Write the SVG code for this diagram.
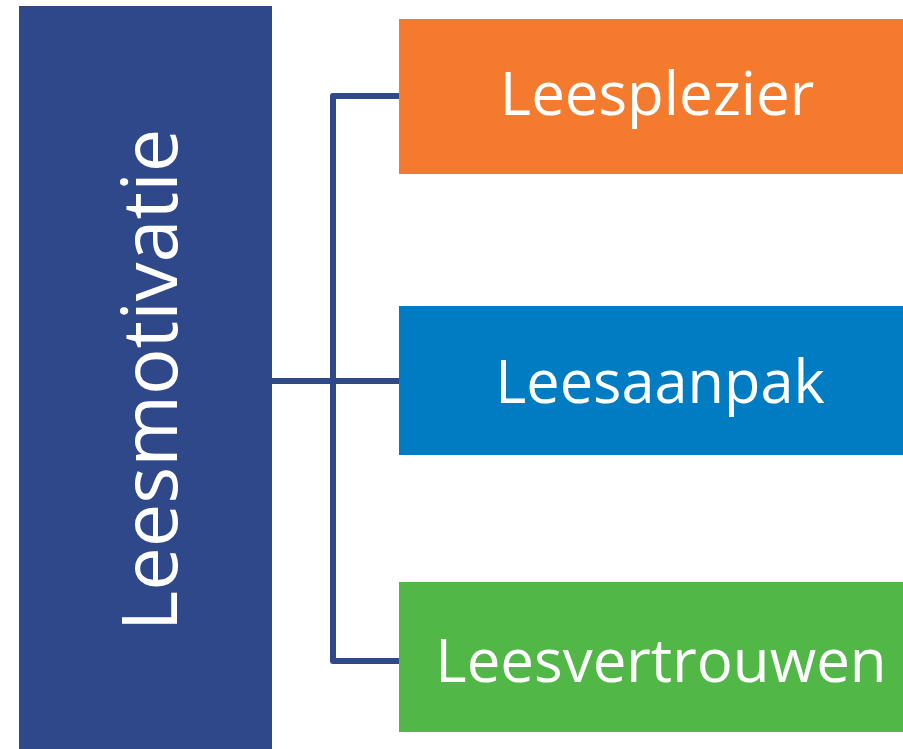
<svg xmlns="http://www.w3.org/2000/svg" width="903" height="749" viewBox="0 0 903 749">
<style>
.lbl{font-family:"Open Sans","Liberation Sans",sans-serif;fill:#ffffff;text-anchor:middle}
.con{fill:none;stroke:#2E4889;stroke-width:6;stroke-linejoin:round}
</style>
<rect width="903" height="749" fill="#ffffff"/>
<g id="connectors">
<path class="con" d="M272,381 H399"/>
<path class="con" d="M399,96 H333 V661 H399"/>
</g>
<g id="leesmotivatie">
<rect x="19" y="6" width="253" height="743" fill="#2E4889"/>
<text class="lbl" transform="translate(177,380) rotate(-90)" font-size="77.5">Leesmotivatie</text>
</g>
<g id="leesplezier">
<rect x="399" y="19" width="504" height="155" fill="#F47A2D"/>
<text class="lbl" x="657" y="115" font-size="60">Leesplezier</text>
</g>
<g id="leesaanpak">
<rect x="399" y="306" width="504" height="149" fill="#007CC3"/>
<text class="lbl" x="660" y="403" font-size="59.5">Leesaanpak</text>
</g>
<g id="leesvertrouwen">
<rect x="399" y="582" width="504" height="150" fill="#51B848"/>
<text class="lbl" x="661" y="682" font-size="60">Leesvertrouwen</text>
</g>
</svg>
